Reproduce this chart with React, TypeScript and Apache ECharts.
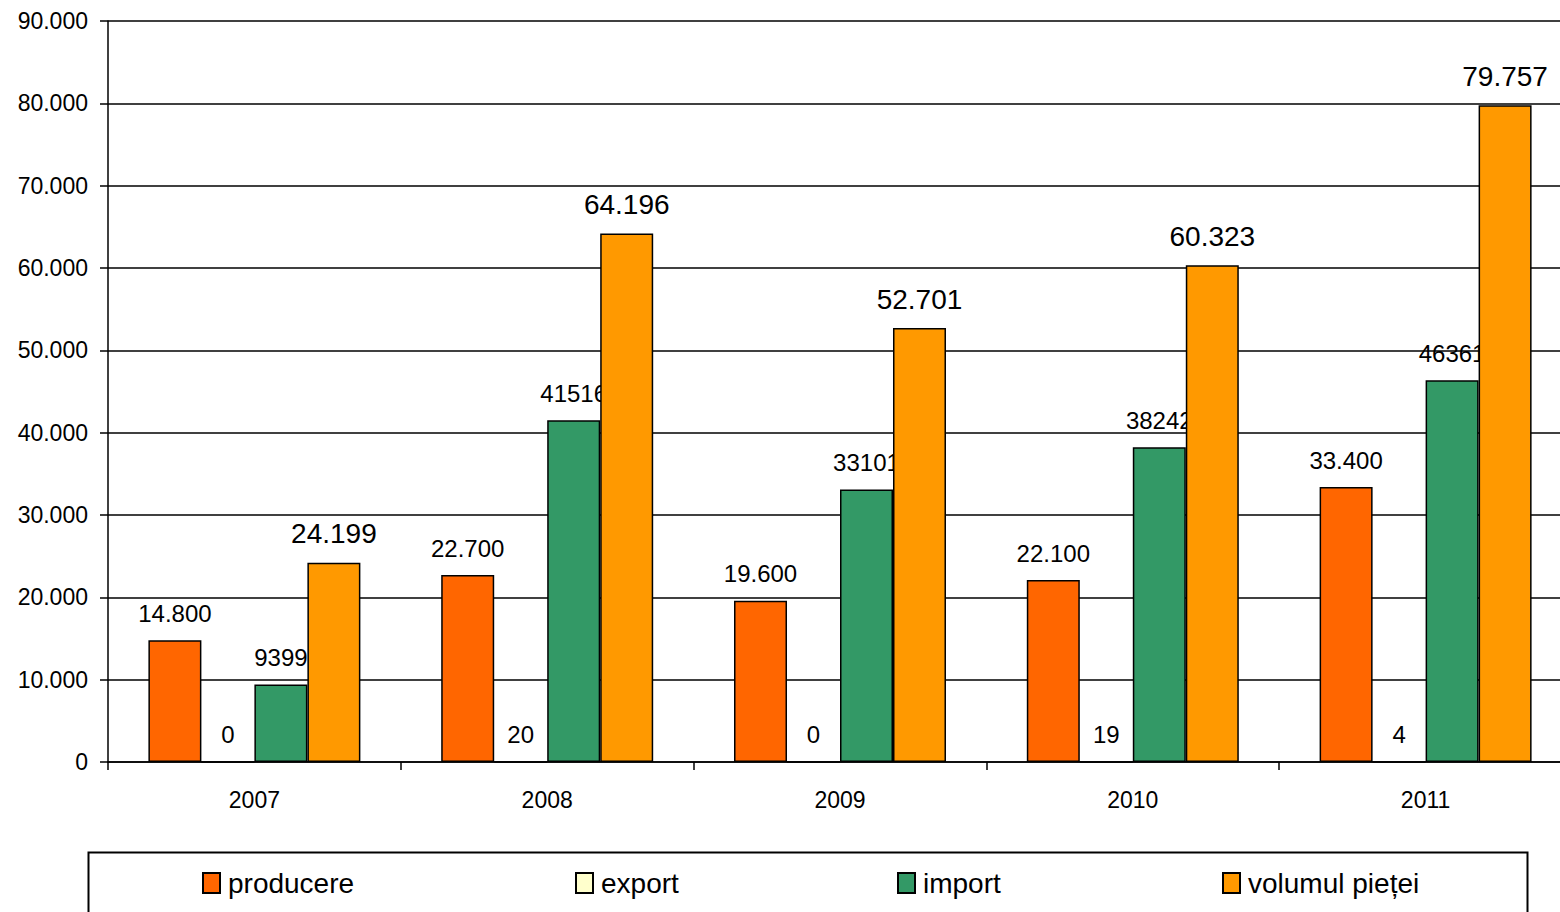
import React, { useEffect, useRef } from "react";
import * as echarts from "echarts";

const years = ["2007", "2008", "2009", "2010", "2011"];
const producere = [14800, 22700, 19600, 22100, 33400];
const exportVals = [0, 20, 0, 19, 4];
const importVals = [9399, 41516, 33101, 38242, 46361];
const volumul = [24199, 64196, 52701, 60323, 79757];

const FONT = "'Liberation Sans', Arial, sans-serif";

function dotFmt(v: number): string {
  const s = Math.round(v).toString();
  return s.replace(/\B(?=(\d{3})+(?!\d))/g, ".");
}

export default function App() {
  const ref = useRef<HTMLDivElement>(null);
  useEffect(() => {
    if (!ref.current) return;
    const chart = echarts.init(ref.current, undefined, { renderer: "svg" });
    const border = { borderColor: "#000", borderWidth: 1.5 };
    const labelBase = {
      show: true,
      position: "top" as const,
      color: "#000",
      fontFamily: FONT,
      fontSize: 24,
      distance: 15,
    };
    const legendCommon = {
      top: 864,
      itemWidth: 17,
      itemHeight: 20,
      icon: "rect",
      textStyle: { fontFamily: FONT, fontSize: 28, color: "#000", padding: [0, 0, 0, 3] },
      selectedMode: false,
    };
    chart.setOption({
      animation: false,
      backgroundColor: "#fff",
      grid: { left: 108, top: 21, right: 0, bottom: 150 },
      xAxis: {
        type: "category",
        data: years,
        axisLine: { lineStyle: { color: "#000", width: 1.5 } },
        axisTick: { show: true, length: 8, lineStyle: { color: "#000", width: 1.5 } },
        axisLabel: { color: "#000", fontFamily: FONT, fontSize: 23, margin: 26 },
      },
      yAxis: {
        type: "value",
        min: 0,
        max: 90000,
        interval: 10000,
        axisLine: { show: true, lineStyle: { color: "#000", width: 1.5 } },
        axisTick: { show: true, length: 8, lineStyle: { color: "#000", width: 1.5 } },
        axisLabel: {
          color: "#000",
          fontFamily: FONT,
          fontSize: 23,
          margin: 20,
          formatter: (v: number) => dotFmt(v),
        },
        splitLine: { show: true, lineStyle: { color: "#000", width: 1.5 } },
      },
      legend: [
        { ...legendCommon, left: 197, data: ["producere"] },
        { ...legendCommon, left: 570, data: ["export"] },
        { ...legendCommon, left: 892, data: ["import"] },
        { ...legendCommon, left: 1217, data: ["volumul pieței"] },
      ],
      graphic: [
        {
          type: "rect",
          left: 86,
          top: 850,
          shape: { width: 1439, height: 90 },
          style: { fill: "none", stroke: "#000", lineWidth: 2 },
          silent: true,
        },
      ],
      series: [
        {
          name: "producere",
          type: "bar",
          data: producere,
          barGap: "0%",
          barCategoryGap: "27.6%",
          itemStyle: { color: "#FF6600", ...border },
          label: { ...labelBase, formatter: (p: any) => dotFmt(p.value) },
          z: 2,
        },
        {
          name: "export",
          type: "bar",
          data: exportVals,
          barGap: "0%",
          barCategoryGap: "27.6%",
          itemStyle: { color: "#FFFFCC", ...border },
          label: { ...labelBase, formatter: (p: any) => String(p.value) },
          z: 2,
        },
        {
          name: "import",
          type: "bar",
          data: importVals,
          barGap: "0%",
          barCategoryGap: "27.6%",
          itemStyle: { color: "#339966", ...border },
          label: { ...labelBase, formatter: (p: any) => String(p.value) },
          z: 1,
        },
        {
          name: "volumul pieței",
          type: "bar",
          data: volumul,
          barGap: "0%",
          barCategoryGap: "27.6%",
          itemStyle: { color: "#FF9900", ...border },
          label: { ...labelBase, fontSize: 28, formatter: (p: any) => dotFmt(p.value) },
          z: 3,
        },
      ],
    });
    return () => chart.dispose();
  }, []);
  return (
    <div style={{ position: "fixed", left: 0, top: 0, width: 1560, height: 912, overflow: "hidden", background: "#fff" }}>
      <div ref={ref} style={{ position: "absolute", left: 0, top: 0, width: 1572, height: 912 }} />
    </div>
  );
}
